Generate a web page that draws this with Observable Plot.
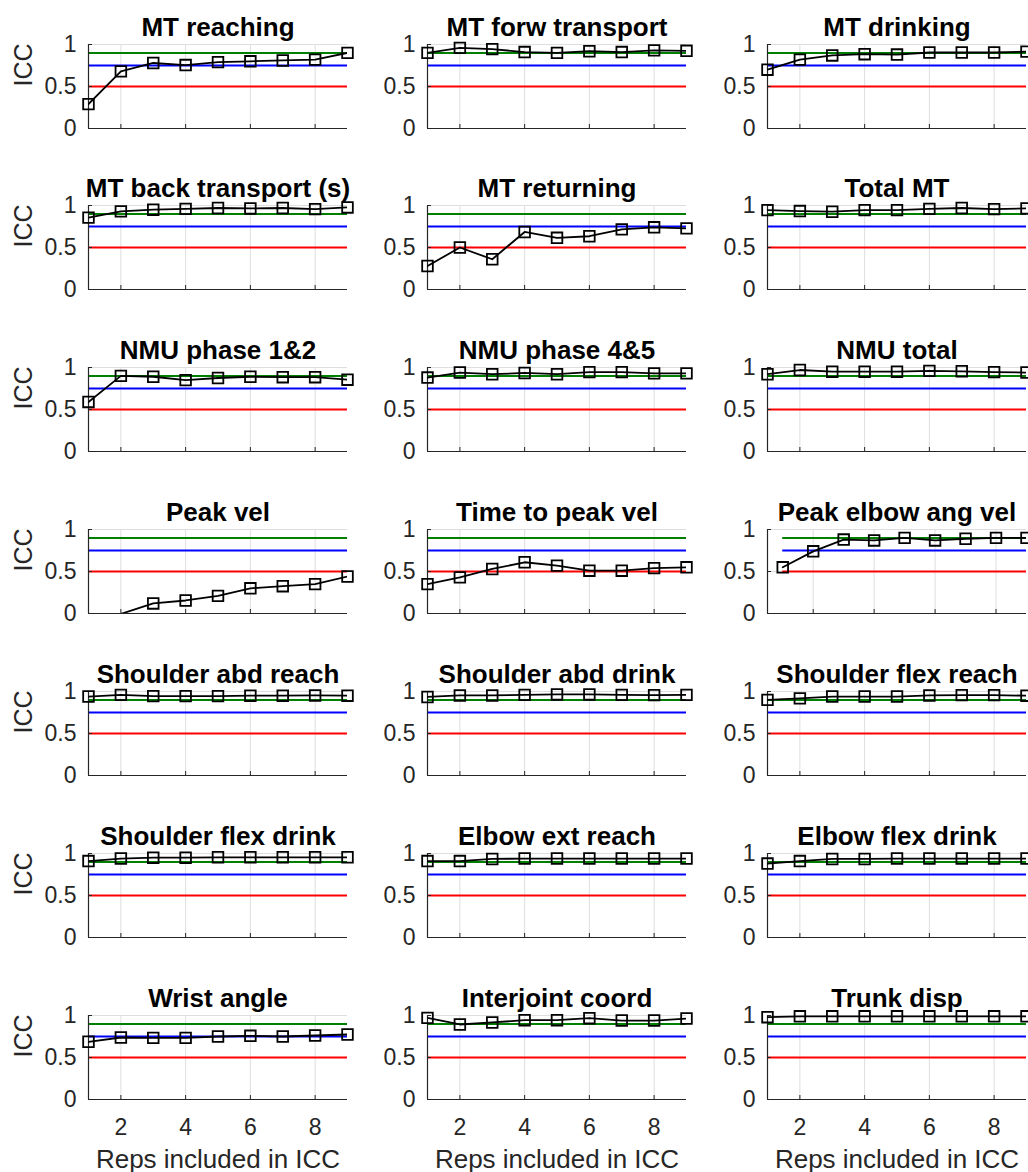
<!DOCTYPE html>
<html><head><meta charset="utf-8">
<script src="https://cdn.jsdelivr.net/npm/d3@7"></script>
<script src="https://cdn.jsdelivr.net/npm/@observablehq/plot@0.6"></script>
<style>
html,body{margin:0;padding:0;background:#fff;overflow:hidden;}
#fig{position:relative;width:1028px;height:1172px;overflow:hidden;background:#fff;}
#fig svg{position:absolute;}
</style></head><body><div id="fig"></div>
<script>
// ---- data ----
const titles = [
  "MT reaching", "MT forw transport", "MT drinking",
  "MT back transport (s)", "MT returning", "Total MT",
  "NMU phase 1&2", "NMU phase 4&5", "NMU total",
  "Peak vel", "Time to peak vel", "Peak elbow ang vel",
  "Shoulder abd reach", "Shoulder abd drink", "Shoulder flex reach",
  "Shoulder flex drink", "Elbow ext reach", "Elbow flex drink",
  "Wrist angle", "Interjoint coord", "Trunk disp"
];
const reps = [1, 2, 3, 4, 5, 6, 7, 8, 9];
const mtReaching        = [0.29, 0.68, 0.78, 0.755, 0.79, 0.80, 0.81, 0.82, 0.90];
const mtForwTransport   = [0.90, 0.96, 0.945, 0.91, 0.90, 0.92, 0.91, 0.93, 0.925];
const mtDrinking        = [0.70, 0.82, 0.87, 0.885, 0.88, 0.905, 0.905, 0.905, 0.915];
const mtBackTransport   = [0.856, 0.93, 0.95, 0.96, 0.97, 0.965, 0.97, 0.957, 0.977];
const mtReturning       = [0.28, 0.50, 0.36, 0.685, 0.615, 0.634, 0.716, 0.74, 0.728];
const totalMT           = [0.945, 0.934, 0.926, 0.945, 0.945, 0.96, 0.97, 0.957, 0.965];
const nmuPhase12        = [0.59, 0.90, 0.89, 0.85, 0.875, 0.89, 0.885, 0.885, 0.855];
const nmuPhase45        = [0.88, 0.94, 0.92, 0.935, 0.92, 0.945, 0.945, 0.93, 0.93];
const nmuTotal          = [0.92, 0.97, 0.95, 0.95, 0.95, 0.96, 0.955, 0.945, 0.94];
const peakVel           = [-0.25, -0.005, 0.12, 0.155, 0.21, 0.30, 0.325, 0.35, 0.44];
const timeToPeakVel     = [0.35, 0.43, 0.53, 0.61, 0.57, 0.51, 0.51, 0.54, 0.55];
const peakElbowAngVel   = [0.55, 0.74, 0.88, 0.87, 0.90, 0.87, 0.89, 0.90, 0.90];
const shoulderAbdReach  = [0.94, 0.96, 0.945, 0.945, 0.945, 0.95, 0.95, 0.953, 0.95];
const shoulderAbdDrink  = [0.935, 0.953, 0.953, 0.96, 0.965, 0.965, 0.96, 0.957, 0.96];
const shoulderFlexReach = [0.90, 0.918, 0.94, 0.94, 0.94, 0.953, 0.957, 0.957, 0.95];
const shoulderFlexDrink = [0.91, 0.94, 0.95, 0.95, 0.955, 0.955, 0.955, 0.955, 0.955];
const elbowExtReach     = [0.91, 0.91, 0.935, 0.94, 0.94, 0.94, 0.94, 0.94, 0.94];
const elbowFlexDrink    = [0.88, 0.91, 0.935, 0.935, 0.94, 0.94, 0.94, 0.94, 0.94];
const wristAngle        = [0.687, 0.738, 0.734, 0.734, 0.75, 0.758, 0.75, 0.762, 0.774];
const interjointCoord   = [0.972, 0.893, 0.917, 0.944, 0.944, 0.968, 0.94, 0.94, 0.964];
const trunkDisp         = [0.98, 0.99, 0.99, 0.99, 0.99, 0.99, 0.99, 0.99, 0.99];

const series = [
  mtReaching, mtForwTransport, mtDrinking,
  mtBackTransport, mtReturning, totalMT,
  nmuPhase12, nmuPhase45, nmuTotal,
  peakVel, timeToPeakVel, peakElbowAngVel,
  shoulderAbdReach, shoulderAbdDrink, shoulderFlexReach,
  shoulderFlexDrink, elbowExtReach, elbowFlexDrink,
  wristAngle, interjointCoord, trunkDisp
];
const thresholdPoor = [0.5];
const thresholdGood = [0.75];
const thresholdExcellent = [0.9];
const xTicks = [2, 4, 6, 8];
const yTicks = [0, 0.5, 1];
const yLabel = "ICC";
const xLabel = "Reps included in ICC";
const xDomainDefault = [1, 9];
const xDomainPeakElbow = [0.5, 9];

// ---- layout ----
const FONT = '"Liberation Sans", Arial, Helvetica, sans-serif';
const AX = "#262626";
const GRID = "#dedede";
const plotW = 259, plotH = 84;
const mL = 88, mR = 30, mT = 44, mB = 75;
const colLeft = [88, 427, 767];
const rowTop = [44, 205, 367, 529, 691, 853, 1015];
const fig = document.getElementById("fig");

titles.forEach((title, i) => {
  const r = Math.floor(i / 3), c = i % 3;
  const isLast = r === 6;
  const xDomain = title === "Peak elbow ang vel" ? xDomainPeakElbow : xDomainDefault;
  const rows = reps.map((rep, k) => ({rep, icc: series[i][k]}));
  const marks = [
    Plot.gridX(xTicks, {stroke: GRID, strokeOpacity: 1, strokeWidth: 1}),
    Plot.gridY(yTicks, {stroke: GRID, strokeOpacity: 1, strokeWidth: 1}),
    Plot.ruleY(thresholdPoor, {y: d => d, x1: reps[0], x2: reps[reps.length - 1], stroke: "#ff0000", strokeWidth: 2}),
    Plot.ruleY(thresholdGood, {y: d => d, x1: reps[0], x2: reps[reps.length - 1], stroke: "#0000ff", strokeWidth: 2}),
    Plot.ruleY(thresholdExcellent, {y: d => d, x1: reps[0], x2: reps[reps.length - 1], stroke: "#007f00", strokeWidth: 2}),
    Plot.ruleX([xDomain[0]], {stroke: AX, strokeWidth: 1.2}),
    Plot.ruleY([0], {stroke: AX, strokeWidth: 1.2}),
    Plot.tickX(xTicks, {x: d => d, insetTop: plotH - 4, stroke: AX}),
    Plot.tickY(yTicks, {y: d => d, insetRight: plotW - 4, stroke: AX}),
    Plot.axisY(yTicks, {tickSize: 0, tickPadding: 12, tickFormat: d => String(d), label: null, fontSize: 23, fill: AX}),
    Plot.line(rows, {x: "rep", y: "icc", stroke: "black", strokeWidth: 1.8, clip: true}),
    Plot.dot(rows.filter(d => d.icc >= 0), {x: "rep", y: "icc", symbol: "square", r: 6, stroke: "black", strokeWidth: 1.8, fill: "none"}),
    Plot.text([title], {text: d => d, frameAnchor: "top", dy: -9, lineAnchor: "bottom", fontSize: 26, fontWeight: "bold", fill: "black"})
  ];
  if (c === 0) {
    marks.push(Plot.text([yLabel], {text: d => d, frameAnchor: "left", rotate: -90, dx: -65, fontSize: 25, fill: AX}));
  }
  if (isLast) {
    marks.push(Plot.axisX(xTicks, {tickSize: 0, tickPadding: 19, tickFormat: d => String(d), label: null, fontSize: 23, fill: AX}));
    marks.push(Plot.text([xLabel], {text: d => d, frameAnchor: "bottom", dy: 68, lineAnchor: "bottom", fontSize: 26, fill: AX}));
  }
  const svg = Plot.plot({
    width: mL + plotW + mR,
    height: mT + plotH + mB,
    marginLeft: mL, marginRight: mR, marginTop: mT, marginBottom: mB,
    x: {domain: xDomain, axis: null},
    y: {domain: [0, 1], axis: null},
    style: {background: "transparent", overflow: "visible", fontFamily: FONT, fontSize: "23px", color: AX, maxWidth: "none"},
    marks
  });
  svg.style.left = (colLeft[c] - mL) + "px";
  svg.style.top = (rowTop[r] - mT) + "px";
  fig.appendChild(svg);
});
</script>
</body></html>
